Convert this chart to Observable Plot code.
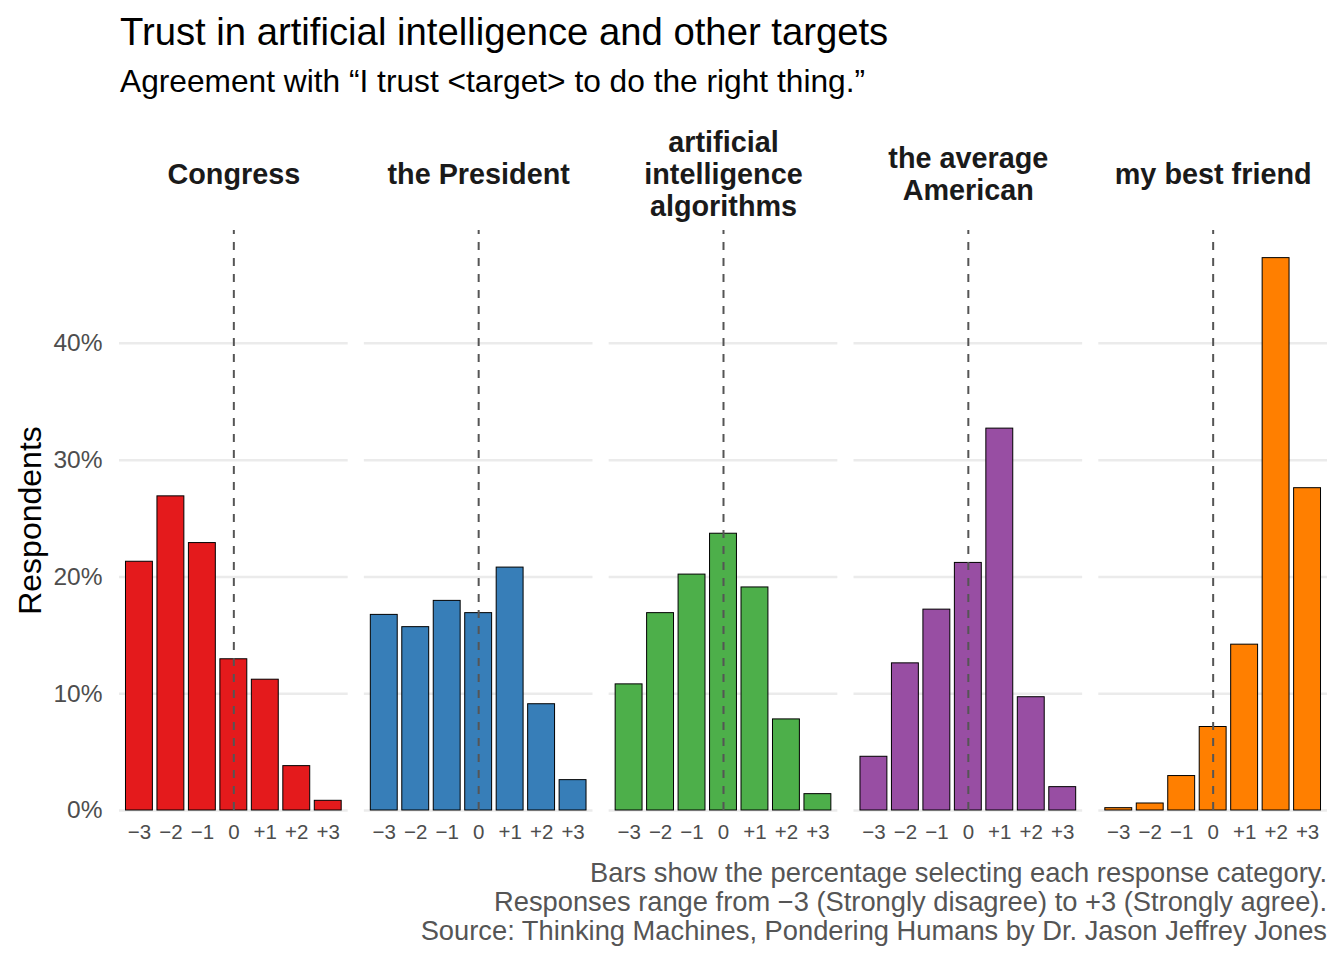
<!DOCTYPE html>
<html>
<head>
<meta charset="utf-8">
<script src="https://cdn.jsdelivr.net/npm/d3@7"></script>
<script src="https://cdn.jsdelivr.net/npm/@observablehq/plot@0.6"></script>
<style>
  html, body { margin: 0; padding: 0; background: #fff; }
  body { width: 1344px; height: 960px; overflow: hidden; font-family: "Liberation Sans", Arial, sans-serif; }
  #header { position: relative; height: 100px; }
  #title { position: absolute; left: 120px; top: 10px; font-size: 38.25px; line-height: 44px; color: #000; white-space: nowrap; }
  #subtitle { position: absolute; left: 120px; top: 63px; font-size: 31.7px; line-height: 36px; color: #000; white-space: nowrap; }
  #chart svg { display: block; }
  #caption { position: relative; height: 102px; }
  #caption div { position: absolute; right: 17px; font-size: 27.3px; line-height: 30px; color: #555555; white-space: nowrap; }
</style>
</head>
<body>
<div id="header">
  <div id="title">Trust in artificial intelligence and other targets</div>
  <div id="subtitle">Agreement with “I trust &lt;target&gt; to do the right thing.”</div>
</div>
<div id="chart"></div>
<div id="caption"></div>
<script>
const targets = ["Congress", "the President", "artificial intelligence algorithms", "the average American", "my best friend"];
const targetLabels = ["Congress", "the President", "artificial\nintelligence\nalgorithms", "the average\nAmerican", "my best friend"];
const responses = ["−3", "−2", "−1", "0", "+1", "+2", "+3"];
const congress = [21.3, 26.9, 22.9, 12.95, 11.2, 3.8, 0.83];
const president = [16.75, 15.7, 17.95, 16.9, 20.8, 9.1, 2.6];
const aiAlgorithms = [10.8, 16.9, 20.2, 23.7, 19.1, 7.8, 1.4];
const averageAmerican = [4.6, 12.6, 17.2, 21.2, 32.7, 9.7, 2.0];
const bestFriend = [0.2, 0.6, 2.95, 7.15, 14.2, 47.3, 27.6];
const colors = ["#E41A1C", "#377EB8", "#4DAF4A", "#984EA3", "#FF7F00"];
const yTicks = [0, 0.1, 0.2, 0.3, 0.4];
const captionLines = [
  "Bars show the percentage selecting each response category.",
  "Responses range from −3 (Strongly disagree) to +3 (Strongly agree).",
  "Source: Thinking Machines, Pondering Humans by Dr. Jason Jeffrey Jones"
];

const series = [congress, president, aiAlgorithms, averageAmerican, bestFriend];
const rows = [];
targets.forEach((t, i) => {
  responses.forEach((r, j) => rows.push({target: t, response: r, share: series[i][j] / 100}));
});
const yMax = d3.max(rows, d => d.share) * 1.05;
const headers = targets.map((t, i) => ({target: t, label: targetLabels[i]}));

const chart = Plot.plot({
  width: 1344,
  height: 758,
  marginTop: 130,
  marginBottom: 48,
  marginLeft: 119,
  marginRight: 17,
  style: {fontFamily: "Liberation Sans, Arial, sans-serif", background: "#fff"},
  fx: {domain: targets, axis: null, paddingInner: 0.066, paddingOuter: 0, round: false},
  x: {domain: responses, paddingInner: 0.145, paddingOuter: 0.206, label: null, round: false},
  y: {domain: [0, yMax], label: null},
  color: {domain: targets, range: colors},
  marks: [
    Plot.gridY(yTicks, {stroke: "#ebebeb", strokeOpacity: 1, strokeWidth: 2.5}),
    Plot.barY(rows, {fx: "target", x: "response", y: "share", fill: "target", stroke: "#000", strokeWidth: 1}),
    Plot.ruleX(["0"], {y1: 0, y2: yMax, stroke: "#555555", strokeWidth: 2, strokeDasharray: "8,8"}),
    Plot.axisX({tickSize: 0, tickPadding: 14, fontSize: 20.5, color: "#4d4d4d", label: null}),
    Plot.axisY(yTicks, {tickSize: 0, tickPadding: 17, fontSize: 24.5, color: "#4d4d4d", tickFormat: d3.format(".0%"), label: null}),
    Plot.text(headers, {fx: "target", text: "label", frameAnchor: "top", dy: -56.5, lineAnchor: "middle", lineHeight: 1.1, fontSize: 28.8, fontWeight: "bold", fill: "#1a1a1a"}),
    Plot.text(["Respondents"], {fx: () => targets[0], text: d => d, frameAnchor: "left", textAnchor: "middle", dx: -89, rotate: -90, fontSize: 32, fill: "#000"})
  ]
});
document.getElementById("chart").appendChild(chart);

const cap = document.getElementById("caption");
captionLines.forEach((line, i) => {
  const el = document.createElement("div");
  el.textContent = line;
  el.style.top = (i * 29) + "px";
  cap.appendChild(el);
});
</script>
</body>
</html>
